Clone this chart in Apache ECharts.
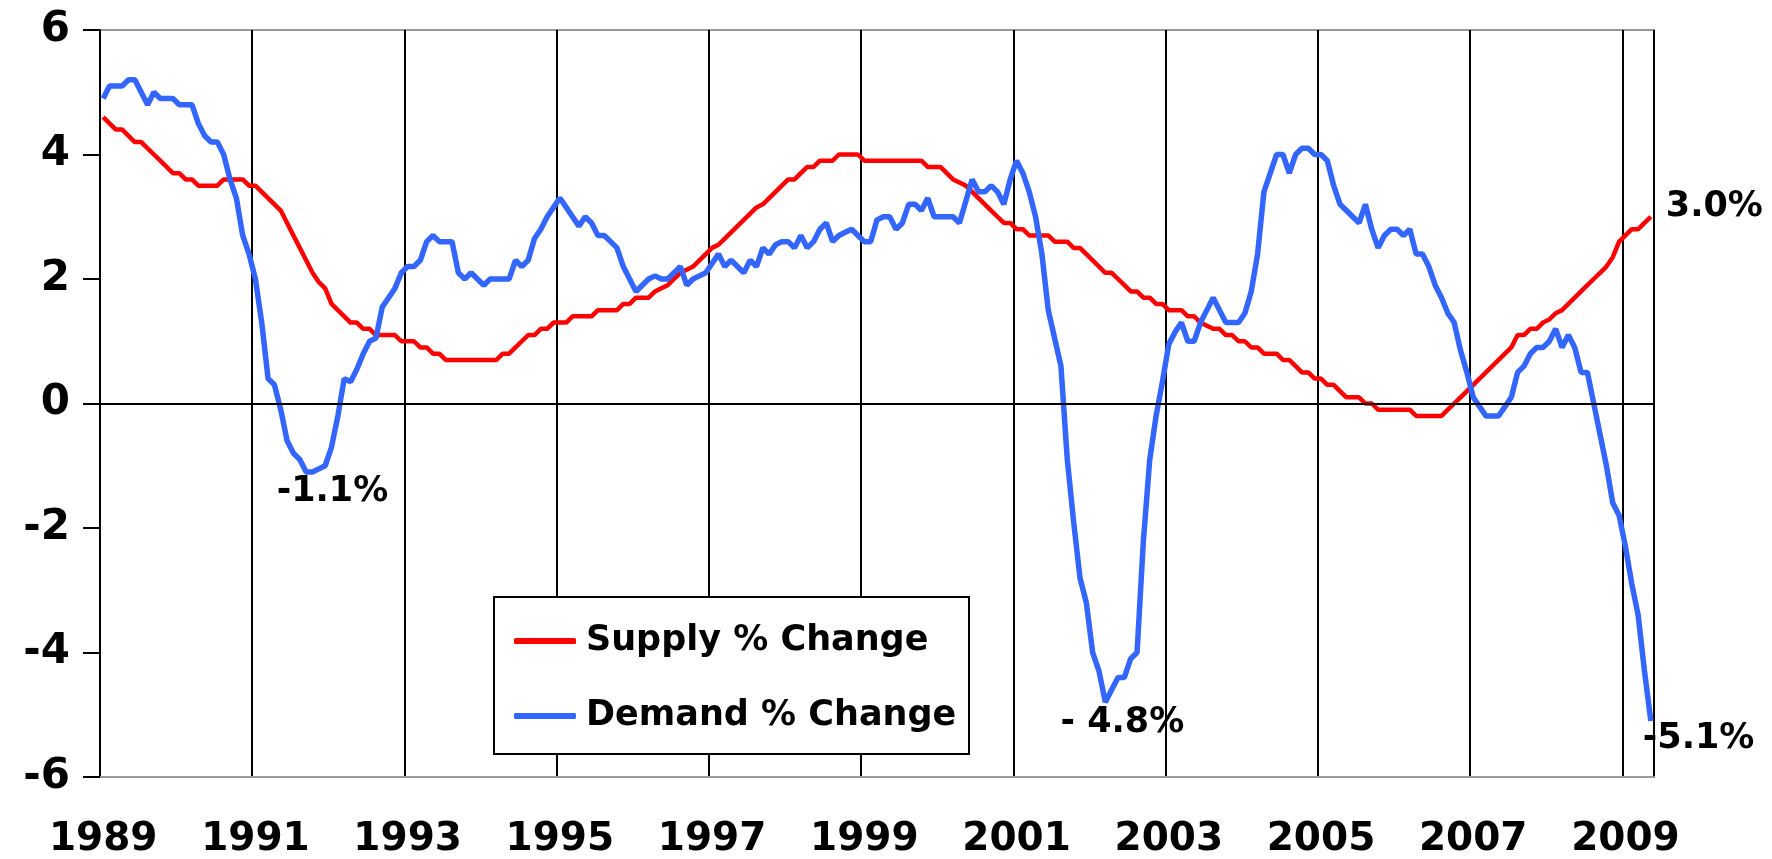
<!DOCTYPE html>
<html>
<head>
<meta charset="utf-8">
<title>Supply vs Demand % Change</title>
<script src="https://cdn.jsdelivr.net/npm/echarts@6/dist/echarts.min.js"></script>
<style>
  html, body { margin: 0; padding: 0; background: #fff; }
  #chart { width: 1772px; height: 859px; }
</style>
</head>
<body>
<div id="chart"></div>
<script>
// monthly year-over-year % change, Jan 1989 .. May 2009
const startYear = 1989

const supply = [
  4.6, 4.5, 4.4, 4.4, 4.3, 4.2, 4.2, 4.1, 4.0, 3.9,
  3.8, 3.7, 3.7, 3.6, 3.6, 3.5, 3.5, 3.5, 3.5, 3.6,
  3.6, 3.6, 3.6, 3.5, 3.5, 3.4, 3.3, 3.2, 3.1, 2.9,
  2.7, 2.5, 2.3, 2.1, 1.95, 1.85, 1.6, 1.5, 1.4, 1.3,
  1.3, 1.2, 1.2, 1.1, 1.1, 1.1, 1.1, 1.0, 1.0, 1.0,
  0.9, 0.9, 0.8, 0.8, 0.7, 0.7, 0.7, 0.7, 0.7, 0.7,
  0.7, 0.7, 0.7, 0.8, 0.8, 0.9, 1.0, 1.1, 1.1, 1.2,
  1.2, 1.3, 1.3, 1.3, 1.4, 1.4, 1.4, 1.4, 1.5, 1.5,
  1.5, 1.5, 1.6, 1.6, 1.7, 1.7, 1.7, 1.8, 1.85, 1.9,
  2.0, 2.1, 2.15, 2.2, 2.3, 2.4, 2.5, 2.55, 2.65, 2.75,
  2.85, 2.95, 3.05, 3.15, 3.2, 3.3, 3.4, 3.5, 3.6, 3.6,
  3.7, 3.8, 3.8, 3.9, 3.9, 3.9, 4.0, 4.0, 4.0, 4.0,
  3.9, 3.9, 3.9, 3.9, 3.9, 3.9, 3.9, 3.9, 3.9, 3.9,
  3.8, 3.8, 3.8, 3.7, 3.6, 3.55, 3.5, 3.4, 3.3, 3.2,
  3.1, 3.0, 2.9, 2.9, 2.8, 2.8, 2.7, 2.7, 2.7, 2.7,
  2.6, 2.6, 2.6, 2.5, 2.5, 2.4, 2.3, 2.2, 2.1, 2.1,
  2.0, 1.9, 1.8, 1.8, 1.7, 1.7, 1.6, 1.6, 1.5, 1.5,
  1.5, 1.4, 1.4, 1.3, 1.25, 1.2, 1.2, 1.1, 1.1, 1.0,
  1.0, 0.9, 0.9, 0.8, 0.8, 0.8, 0.7, 0.7, 0.6, 0.5,
  0.5, 0.4, 0.4, 0.3, 0.3, 0.2, 0.1, 0.1, 0.1, 0.0,
  0.0, -0.1, -0.1, -0.1, -0.1, -0.1, -0.1, -0.2, -0.2, -0.2,
  -0.2, -0.2, -0.1, 0.0, 0.1, 0.2, 0.3, 0.4, 0.5, 0.6,
  0.7, 0.8, 0.9, 1.1, 1.1, 1.2, 1.2, 1.3, 1.35, 1.45,
  1.5, 1.6, 1.7, 1.8, 1.9, 2.0, 2.1, 2.2, 2.35, 2.6,
  2.7, 2.8, 2.8, 2.9, 3.0
]

const demand = [
  4.9, 5.1, 5.1, 5.1, 5.2, 5.2, 5.0, 4.8, 5.0, 4.9,
  4.9, 4.9, 4.8, 4.8, 4.8, 4.5, 4.3, 4.2, 4.2, 4.0,
  3.6, 3.3, 2.7, 2.4, 2.0, 1.3, 0.4, 0.3, -0.1, -0.6,
  -0.8, -0.9, -1.1, -1.1, -1.05, -1.0, -0.7, -0.2, 0.4, 0.35,
  0.55, 0.8, 1.0, 1.05, 1.55, 1.7, 1.85, 2.1, 2.2, 2.2,
  2.3, 2.6, 2.7, 2.6, 2.6, 2.6, 2.1, 2.0, 2.1, 2.0,
  1.9, 2.0, 2.0, 2.0, 2.0, 2.3, 2.2, 2.3, 2.65, 2.8,
  3.0, 3.15, 3.3, 3.15, 3.0, 2.85, 3.0, 2.9, 2.7, 2.7,
  2.6, 2.5, 2.2, 2.0, 1.8, 1.9, 2.0, 2.05, 2.0, 2.0,
  2.1, 2.2, 1.9, 2.0, 2.05, 2.1, 2.25, 2.4, 2.2, 2.3,
  2.2, 2.1, 2.3, 2.2, 2.5, 2.4, 2.55, 2.6, 2.6, 2.5,
  2.7, 2.5, 2.6, 2.8, 2.9, 2.6, 2.7, 2.75, 2.8, 2.7,
  2.6, 2.6, 2.95, 3.0, 3.0, 2.8, 2.9, 3.2, 3.2, 3.1,
  3.3, 3.0, 3.0, 3.0, 3.0, 2.9, 3.25, 3.6, 3.4, 3.4,
  3.5, 3.4, 3.2, 3.6, 3.9, 3.7, 3.4, 3.0, 2.4, 1.5,
  1.05, 0.6, -0.9, -1.9, -2.8, -3.2, -4.0, -4.3, -4.8, -4.6,
  -4.4, -4.4, -4.1, -4.0, -2.2, -0.9, -0.2, 0.35, 0.95, 1.15,
  1.3, 1.0, 1.0, 1.3, 1.5, 1.7, 1.5, 1.3, 1.3, 1.3,
  1.45, 1.8, 2.4, 3.4, 3.7, 4.0, 4.0, 3.7, 4.0, 4.1,
  4.1, 4.0, 4.0, 3.9, 3.5, 3.2, 3.1, 3.0, 2.9, 3.2,
  2.8, 2.5, 2.7, 2.8, 2.8, 2.7, 2.8, 2.4, 2.4, 2.2,
  1.9, 1.7, 1.45, 1.3, 0.85, 0.5, 0.1, -0.05, -0.2, -0.2,
  -0.2, -0.05, 0.1, 0.5, 0.6, 0.8, 0.9, 0.9, 1.0, 1.2,
  0.9, 1.1, 0.9, 0.5, 0.5, 0.0, -0.5, -1.0, -1.6, -1.8,
  -2.3, -2.9, -3.4, -4.3, -5.1
]

const yearTicks = ['1989', '1991', '1993', '1995', '1997', '1999', '2001', '2003', '2005', '2007', '2009']

const months = supply.map(function (_, i) {
  return (startYear + Math.floor(i / 12)) + '-' + String(i % 12 + 1).padStart(2, '0')
})

// month indexes the callouts hang from
const lastIdx = months.length - 1
const demandLow1991 = 33
const demandLow2002 = 158

const font = 'DejaVu Sans'

function callout(values, idx, text, align, offset) {
  return {
    coord: [months[idx], values[idx]],
    symbol: 'circle',
    symbolSize: 0,
    label: {
      show: true,
      formatter: text,
      position: 'inside',
      align: align,
      verticalAlign: 'middle',
      offset: offset,
      color: '#000',
      fontFamily: font,
      fontWeight: 'bold',
      fontSize: 35,
    },
  }
}

const chart = echarts.init(document.getElementById('chart'))

chart.setOption({
  animation: false,
  backgroundColor: '#fff',
  grid: {
    left: 100,
    right: 118,
    top: 30,
    bottom: 70,
    show: true,
    borderColor: '#999',
    borderWidth: 2,
  },
  legend: {
    data: ['Supply % Change', 'Demand % Change'],
    orient: 'vertical',
    left: 514,
    top: 621,
    padding: 0,
    itemGap: 35,
    itemWidth: 62,
    itemHeight: 6,
    icon: 'roundRect',
    textStyle: {
      fontFamily: font,
      fontWeight: 'bold',
      fontSize: 35,
      lineHeight: 40,
      color: '#000',
      padding: [0, 0, 0, 5],
    },
  },
  graphic: [
    {
      type: 'rect',
      z: 3,
      shape: { x: 494, y: 597, width: 475, height: 157 },
      style: { fill: '#fff', stroke: '#000', lineWidth: 2 },
    },
  ],
  xAxis: {
    type: 'category',
    data: months,
    boundaryGap: true,
    axisLine: { show: true, onZero: false, lineStyle: { color: '#999', width: 2 } },
    axisTick: { show: false },
    axisLabel: {
      interval: 23,
      margin: 43,
      color: '#000',
      fontFamily: font,
      fontWeight: 'bold',
      fontSize: 39,
      formatter: function (v) {
        const y = v.slice(0, 4)
        return yearTicks.indexOf(y) >= 0 && v.slice(5) === '01' ? y : ''
      },
    },
    splitLine: {
      show: true,
      interval: 23,
      lineStyle: { color: '#000', width: 2 },
    },
  },
  yAxis: {
    type: 'value',
    min: -6,
    max: 6,
    interval: 2,
    axisLine: { show: true, lineStyle: { color: '#000', width: 2 } },
    axisTick: { show: true, length: 17, lineStyle: { color: '#000', width: 2 } },
    axisLabel: {
      margin: 30,
      color: '#000',
      fontFamily: font,
      fontWeight: 'bold',
      fontSize: 42,
    },
    splitLine: { show: false },
  },
  series: [
    {
      name: 'Supply % Change',
      type: 'line',
      data: supply,
      symbol: 'none',
      lineStyle: { color: '#ff0000', width: 4.5 },
      itemStyle: { color: '#ff0000' },
      markLine: {
        silent: true,
        symbol: 'none',
        label: { show: false },
        lineStyle: { color: '#000', width: 2, type: 'solid' },
        data: [{ yAxis: 0 }],
      },
      markPoint: {
        silent: true,
        data: [callout(supply, lastIdx, '3.0%', 'left', [15, -10])],
      },
    },
    {
      name: 'Demand % Change',
      type: 'line',
      data: demand,
      symbol: 'none',
      lineStyle: { color: '#3366ff', width: 5.5 },
      itemStyle: { color: '#3366ff' },
      markPoint: {
        silent: true,
        data: [
          callout(demand, demandLow1991, '-1.1%', 'center', [20, 20]),
          callout(demand, demandLow2002, '- 4.8%', 'center', [17, 21]),
          callout(demand, lastIdx, '-5.1%', 'left', [-8, 18]),
        ],
      },
    },
  ],
})

window.addEventListener('resize', function () {
  chart.resize()
})
</script>
</body>
</html>
